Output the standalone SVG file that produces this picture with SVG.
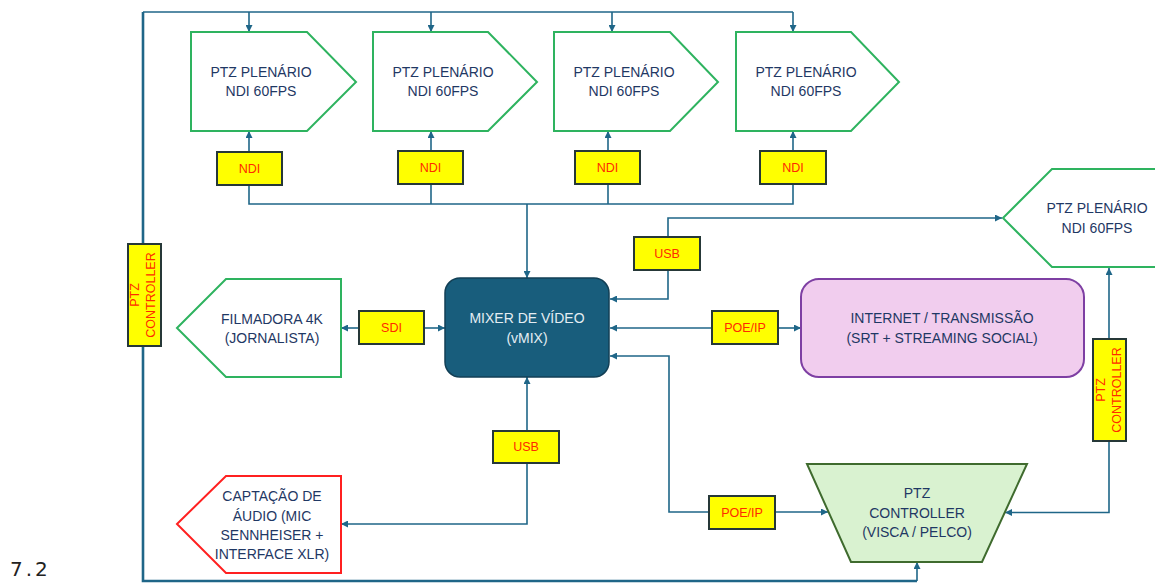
<svg xmlns="http://www.w3.org/2000/svg" width="1155" height="583" viewBox="0 0 1155 583">
<style>
.pent{fill:#fff;stroke:#2EB35F;stroke-width:2}
.nt{font-family:"Liberation Sans",Arial,sans-serif;font-size:14px;fill:#1F3864;text-anchor:middle}
.lb{fill:#FFFF00;stroke:#263838;stroke-width:2}
.lt{font-family:"Liberation Sans",Arial,sans-serif;font-size:12.5px;fill:#FF2A00;text-anchor:middle}
.c{fill:none;stroke:#1F6688;stroke-width:1.6}
.cf{fill:none;stroke:#1F6688;stroke-width:2.6}
</style>
<defs>
<marker id="ah" viewBox="0 0 10 10" refX="10" refY="5" markerWidth="7" markerHeight="7" markerUnits="userSpaceOnUse" orient="auto">
<path d="M0,0 L10,5 L0,10 z" fill="#1F6688"/>
</marker>
</defs>
<rect width="1155" height="583" fill="#fff"/>

<g id="connectors">
<path class="cf" d="M917,581 H143 V12"/>
<path class="c" d="M143,12 H793"/>
<path class="c" d="M249,12 V32" marker-end="url(#ah)"/>
<path class="c" d="M431,12 V32" marker-end="url(#ah)"/>
<path class="c" d="M612,12 V32" marker-end="url(#ah)"/>
<path class="c" d="M793,12 V32" marker-end="url(#ah)"/>
<path class="c" d="M249,152 V131" marker-end="url(#ah)"/>
<path class="c" d="M431,152 V131" marker-end="url(#ah)"/>
<path class="c" d="M608,152 V131" marker-end="url(#ah)"/>
<path class="c" d="M793,152 V131" marker-end="url(#ah)"/>
<path class="c" d="M249,185 V204 H793 V185"/>
<path class="c" d="M431,185 V204"/>
<path class="c" d="M608,185 V204"/>
<path class="c" d="M527,204 V278" marker-end="url(#ah)"/>
<path class="c" d="M668,270 V299 H610" marker-end="url(#ah)"/>
<path class="c" d="M668,237 V218 H1002" marker-end="url(#ah)"/>
<path class="c" d="M712,328 H610" marker-end="url(#ah)"/>
<path class="c" d="M778,328 H801" marker-end="url(#ah)"/>
<path class="c" d="M359,328 H341" marker-end="url(#ah)"/>
<path class="c" d="M424,328 H445" marker-end="url(#ah)"/>
<path class="c" d="M527,431 V377" marker-end="url(#ah)"/>
<path class="c" d="M527,463 V524 H341" marker-end="url(#ah)"/>
<path class="c" d="M709,512 H669 V356 H610" marker-end="url(#ah)"/>
<path class="c" d="M775,512 H828" marker-end="url(#ah)"/>
<path class="c" d="M1109,441 V512.5 H1005" marker-end="url(#ah)"/>
<path class="c" d="M1109,339 V268" marker-end="url(#ah)"/>
<path class="c" d="M917,581 V562" marker-end="url(#ah)"/>
</g>

<g id="ptz1">
<polygon class="pent" points="191,32 307,32 356,82 307,131 191,131"/>
<text class="nt" x="261" y="77">PTZ PLENÁRIO</text>
<text class="nt" x="261" y="96">NDI 60FPS</text>
</g>
<g id="ptz2">
<polygon class="pent" points="373,32 488,32 537,82 488,131 373,131"/>
<text class="nt" x="443" y="77">PTZ PLENÁRIO</text>
<text class="nt" x="443" y="96">NDI 60FPS</text>
</g>
<g id="ptz3">
<polygon class="pent" points="554,32 670,32 718,82 670,131 554,131"/>
<text class="nt" x="624" y="77">PTZ PLENÁRIO</text>
<text class="nt" x="624" y="96">NDI 60FPS</text>
</g>
<g id="ptz4">
<polygon class="pent" points="736,32 851,32 899,82 851,131 736,131"/>
<text class="nt" x="806" y="77">PTZ PLENÁRIO</text>
<text class="nt" x="806" y="96">NDI 60FPS</text>
</g>
<g id="ptz5">
<polygon class="pent" points="1003,218 1052,169 1160,169 1160,267 1052,267"/>
<text class="nt" x="1097" y="213">PTZ PLENÁRIO</text>
<text class="nt" x="1097" y="233">NDI 60FPS</text>
</g>

<g id="ndi1"><rect class="lb" x="217" y="152" width="65" height="33"/><text class="lt" x="249.5" y="173">NDI</text></g>
<g id="ndi2"><rect class="lb" x="398" y="151" width="65" height="33"/><text class="lt" x="430.5" y="172">NDI</text></g>
<g id="ndi3"><rect class="lb" x="575" y="151" width="65" height="33"/><text class="lt" x="607.5" y="172">NDI</text></g>
<g id="ndi4"><rect class="lb" x="760" y="151" width="66" height="33"/><text class="lt" x="793" y="172">NDI</text></g>

<g id="usb-top"><rect class="lb" x="634" y="237" width="66" height="33"/><text class="lt" x="667" y="258">USB</text></g>
<g id="poe-mid"><rect class="lb" x="712" y="311" width="66" height="33"/><text class="lt" x="745" y="332">POE/IP</text></g>
<g id="sdi"><rect class="lb" x="359" y="311" width="65" height="33"/><text class="lt" x="391.5" y="332">SDI</text></g>
<g id="usb-bot"><rect class="lb" x="493" y="431" width="66" height="32"/><text class="lt" x="526" y="451">USB</text></g>
<g id="poe-bot"><rect class="lb" x="709" y="496" width="66" height="33"/><text class="lt" x="742" y="517">POE/IP</text></g>

<g id="ptzctl-left">
<rect class="lb" x="128" y="244" width="33" height="102"/>
<text class="lt" transform="translate(139,295) rotate(-90)" y="0">PTZ</text>
<text class="lt" transform="translate(155,295) rotate(-90)" y="0">CONTROLLER</text>
</g>
<g id="ptzctl-right">
<rect class="lb" x="1093" y="339" width="33" height="102"/>
<text class="lt" transform="translate(1105,390) rotate(-90)" y="0">PTZ</text>
<text class="lt" transform="translate(1121,390) rotate(-90)" y="0">CONTROLLER</text>
</g>

<g id="mixer">
<rect x="445" y="278" width="164" height="99" rx="15" fill="#185D7C" stroke="#123F55" stroke-width="1.5"/>
<text class="nt" x="527" y="323" style="fill:#E4EDF3">MIXER DE VÍDEO</text>
<text class="nt" x="527" y="343" style="fill:#E4EDF3">(vMIX)</text>
</g>

<g id="filmadora">
<polygon class="pent" points="177,328 226,279 341,279 341,377 226,377"/>
<text class="nt" x="272" y="324">FILMADORA 4K</text>
<text class="nt" x="272" y="343">(JORNALISTA)</text>
</g>

<g id="internet">
<rect x="801" y="279" width="283" height="98" rx="18" fill="#F1CDEE" stroke="#7E3FA3" stroke-width="2"/>
<text class="nt" x="942" y="323">INTERNET / TRANSMISSÃO</text>
<text class="nt" x="942" y="343">(SRT + STREAMING SOCIAL)</text>
</g>

<g id="audio">
<polygon points="177,524 226,476 341,476 341,573 226,573" fill="#fff" stroke="#FF2020" stroke-width="2"/>
<text class="nt" x="272" y="501">CAPTAÇÃO DE</text>
<text class="nt" x="272" y="520.5">ÁUDIO (MIC</text>
<text class="nt" x="272" y="540">SENNHEISER +</text>
<text class="nt" x="272" y="559">INTERFACE XLR)</text>
</g>

<g id="ptz-controller">
<polygon points="807,464 1027,464 982,562 851,562" fill="#D9F2D0" stroke="#3F6B2E" stroke-width="2"/>
<text class="nt" x="917" y="498">PTZ</text>
<text class="nt" x="917" y="518">CONTROLLER</text>
<text class="nt" x="917" y="537">(VISCA / PELCO)</text>
</g>

<text x="10" y="576" font-family="DejaVu Sans,sans-serif" font-size="20" fill="#222" letter-spacing="3">7.2</text>
</svg>
